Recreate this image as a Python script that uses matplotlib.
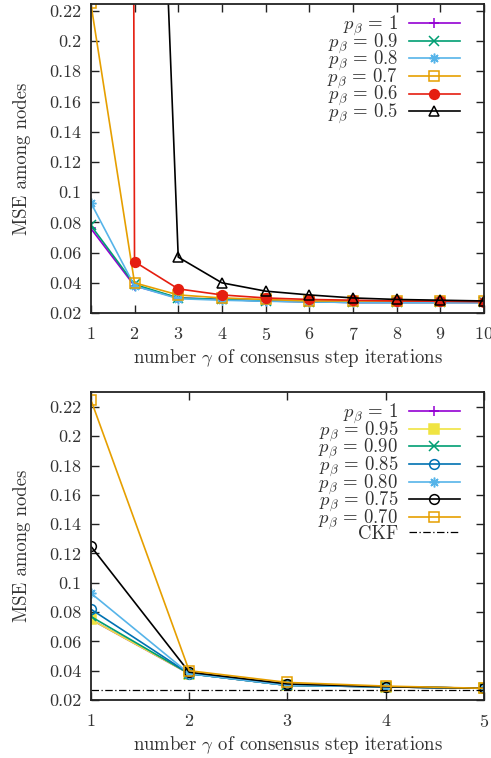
import matplotlib
matplotlib.use("Agg")
import matplotlib.pyplot as plt

plt.rcParams["font.family"] = "serif"
plt.rcParams["font.serif"] = ["cmr10"]
plt.rcParams["mathtext.fontset"] = "cm"
plt.rcParams["axes.formatter.use_mathtext"] = True
plt.rcParams["axes.unicode_minus"] = False
plt.rcParams["font.size"] = 13

# top panel: gamma = 1..10
gamma_top = [1, 2, 3, 4, 5, 6, 7, 8, 9, 10]
top_labels = [r"$p_\beta\,=\,1$", r"$p_\beta\,=\,0.9$", r"$p_\beta\,=\,0.8$",
              r"$p_\beta\,=\,0.7$", r"$p_\beta\,=\,0.6$", r"$p_\beta\,=\,0.5$"]
mse_p10 = [0.076, 0.038, 0.030, 0.029, 0.028, 0.0275, 0.027, 0.027, 0.027, 0.027]
mse_p09 = [0.078, 0.039, 0.030, 0.029, 0.028, 0.0275, 0.027, 0.027, 0.027, 0.027]
mse_p08 = [0.093, 0.038, 0.0295, 0.0285, 0.0278, 0.0274, 0.027, 0.027, 0.027, 0.027]
mse_p07 = [0.225, 0.040, 0.032, 0.030, 0.029, 0.028, 0.028, 0.028, 0.028, 0.028]
mse_p06 = [10.0, 0.054, 0.036, 0.032, 0.030, 0.029, 0.0285, 0.028, 0.0278, 0.0275]
mse_p05 = [20.0, 0.80, 0.057, 0.040, 0.0345, 0.032, 0.030, 0.029, 0.0285, 0.028]

# bottom panel: gamma = 1..5
gamma_bot = [1, 2, 3, 4, 5]
bot_labels = [r"$p_\beta\,=\,1$", r"$p_\beta\,=\,0.95$", r"$p_\beta\,=\,0.90$",
              r"$p_\beta\,=\,0.85$", r"$p_\beta\,=\,0.80$", r"$p_\beta\,=\,0.75$",
              r"$p_\beta\,=\,0.70$"]
b_p100 = [0.075, 0.038, 0.030, 0.029, 0.028]
b_p095 = [0.075, 0.038, 0.030, 0.029, 0.028]
b_p090 = [0.077, 0.038, 0.030, 0.029, 0.028]
b_p085 = [0.082, 0.038, 0.030, 0.029, 0.028]
b_p080 = [0.093, 0.038, 0.030, 0.029, 0.028]
b_p075 = [0.125, 0.039, 0.031, 0.029, 0.028]
b_p070 = [0.225, 0.040, 0.032, 0.0295, 0.028]
ckf_mse = 0.027

purple = "#9400D3"
green = "#009E73"
skyblue = "#56B4E9"
orange = "#E69F00"
red = "#E51E10"
yellow = "#F0E442"
blue = "#0072B2"
black = "#000000"
star = (8, 2, 0)  # gnuplot-like asterisk

fig = plt.figure(figsize=(4.91, 7.58), dpi=100)
ax1 = fig.add_axes([0.185, 0.587, 0.801, 0.408])
ax2 = fig.add_axes([0.185, 0.0765, 0.801, 0.4065])

lw = 1.2
ms = 7


def style_axes(ax, xticks, ymax):
    ax.set_xlim(xticks[0], xticks[-1])
    ax.set_ylim(0.02, ymax)
    ax.set_xticks(xticks)
    ax.set_yticks([0.02, 0.04, 0.06, 0.08, 0.1, 0.12, 0.14, 0.16, 0.18, 0.2, 0.22])
    ax.set_yticklabels(["0.02", "0.04", "0.06", "0.08", "0.1", "0.12", "0.14",
                        "0.16", "0.18", "0.2", "0.22"])
    ax.tick_params(direction="in", length=6, width=1, top=True, right=True,
                   colors="#222222", labelcolor="#333333", labelsize=13, pad=7)
    ax.tick_params(axis="x", pad=9)
    for s in ax.spines.values():
        s.set_linewidth(1.3)
        s.set_color("#222222")
    ax.set_xlabel(r"number $\gamma$ of consensus step iterations", fontsize=13.5,
                  color="#333333", labelpad=3)
    ax.set_ylabel("MSE among nodes", fontsize=13.5, color="#333333", labelpad=13)


def make_legend(ax):
    leg = ax.legend(loc="upper right", bbox_to_anchor=(0.963, 1.0), frameon=False,
                    markerfirst=False, handlelength=2.75, fontsize=13.5,
                    labelspacing=-0.38, borderaxespad=0.1, handletextpad=0.55)
    for t in leg.get_texts():
        t.set_color("#333333")
    return leg


top_series = [mse_p10, mse_p09, mse_p08, mse_p07, mse_p06, mse_p05]
top_colors = [purple, green, skyblue, orange, red, black]
top_markers = ["+", "x", star, "s", "o", "^"]
top_fill = [None, None, None, "none", red, "none"]
for ys, lab, c, m, f in zip(top_series, top_labels, top_colors, top_markers, top_fill):
    kw = dict(color=c, lw=lw, marker=m, ms=ms, mew=1.1, label=lab)
    if f is not None:
        kw["mfc"] = f
    ax1.plot(gamma_top, ys, **kw)
style_axes(ax1, gamma_top, 0.2247)
make_legend(ax1)

bot_series = [b_p100, b_p095, b_p090, b_p085, b_p080, b_p075, b_p070]
bot_colors = [purple, yellow, green, blue, skyblue, black, orange]
bot_markers = ["+", "s", "x", "o", star, "o", "s"]
bot_fill = [None, yellow, None, "none", None, "none", "none"]
for ys, lab, c, m, f in zip(bot_series, bot_labels, bot_colors, bot_markers, bot_fill):
    kw = dict(color=c, lw=lw, marker=m, ms=ms, mew=1.1, label=lab)
    if f is not None:
        kw["mfc"] = f
    ax2.plot(gamma_bot, ys, **kw)
ax2.plot(gamma_bot, [ckf_mse] * len(gamma_bot), color=black, lw=0.9,
         ls=(0, (6, 2, 1, 2)), label="CKF")
style_axes(ax2, gamma_bot, 0.2303)
make_legend(ax2)

fig.savefig("out.png", dpi=100)
